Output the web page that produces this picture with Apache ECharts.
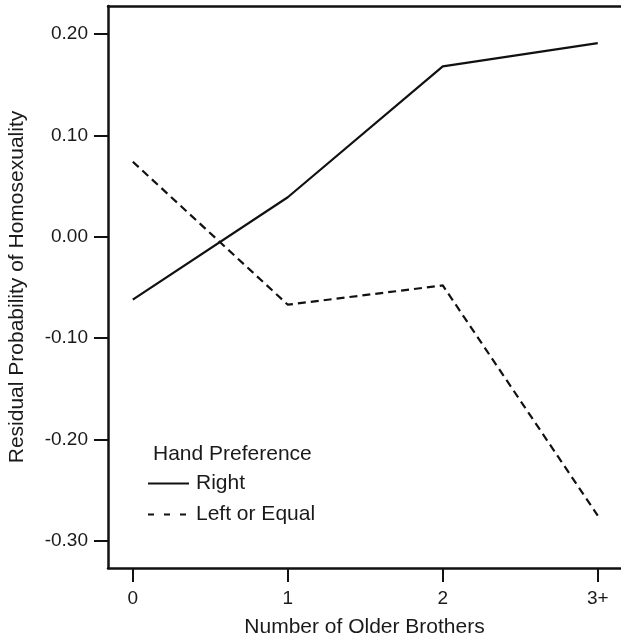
<!DOCTYPE html>
<html>
<head>
<meta charset="utf-8">
<script src="https://cdn.jsdelivr.net/npm/echarts@6/dist/echarts.min.js"></script>
<style>html,body{margin:0;padding:0;background:#fff;}#c{width:621px;height:640px;}</style>
</head>
<body>
<div id="c"></div>
<script>
const categories = ["0", "1", "2", "3+"];
const rightValues = [-0.062, 0.039, 0.168, 0.191];
const leftValues = [0.074, -0.067, -0.048, -0.275];
const yTicks = [-0.3, -0.2, -0.1, 0, 0.1, 0.2];
const xTicks = [0, 1, 2, 3];
const seriesNames = ["Right", "Left or Equal"];

const FONT = "Liberation Sans, Arial, Helvetica, sans-serif";
const TXT = "#1a1a1a";
const toPairs = vals => vals.map((v, i) => [i, v]);

const chart = echarts.init(document.getElementById('c'), null, {renderer: 'canvas'});
chart.setOption({
  animation: false,
  backgroundColor: '#fff',
  textStyle: {fontFamily: FONT},
  title: {
    text: 'Hand Preference', left: 148, top: 439,
    textStyle: {fontFamily: FONT, fontSize: 21, fontWeight: 'normal', color: TXT}
  },
  legend: {
    orient: 'vertical', left: 147, top: 473, padding: 0,
    itemWidth: 41, itemHeight: 14, itemGap: 10,
    itemStyle: {opacity: 0},
    textStyle: {fontFamily: FONT, fontSize: 21, lineHeight: 20, color: TXT, padding: [0, 0, 0, 2]},
    data: [
      {name: seriesNames[0]},
      {name: seriesNames[1], lineStyle: {type: [6, 10]}}
    ]
  },
  grid: {left: 108, top: 6, right: 0, bottom: 72, containLabel: false, outerBoundsMode: 'none'},
  xAxis: [{
    type: 'value', min: -0.16, max: 3.15,
    name: 'Number of Older Brothers', nameLocation: 'middle', nameGap: 49,
    nameTextStyle: {fontFamily: FONT, fontSize: 21, color: TXT},
    axisLine: {show: true, onZero: false, lineStyle: {color: '#111', width: 2.5}},
    axisTick: {show: true, length: 14, lineStyle: {color: '#111', width: 2}, customValues: xTicks},
    axisLabel: {fontFamily: FONT, fontSize: 19, color: TXT, margin: 21, customValues: xTicks,
      formatter: v => categories[Math.round(v)]},
    splitLine: {show: false}
  }, {
    type: 'value', position: 'top', min: -0.16, max: 3.15,
    axisLine: {show: true, onZero: false, lineStyle: {color: '#111', width: 2.5}},
    axisTick: {show: false}, axisLabel: {show: false}, splitLine: {show: false}
  }],
  yAxis: {
    type: 'value', min: -0.3267, max: 0.2276,
    name: 'Residual Probability of Homosexuality', nameLocation: 'middle', nameGap: 80,
    nameTextStyle: {fontFamily: FONT, fontSize: 21, color: TXT},
    axisLine: {show: true, onZero: false, lineStyle: {color: '#111', width: 2.5}},
    axisTick: {show: true, length: 14, lineStyle: {color: '#111', width: 2}, customValues: yTicks},
    axisLabel: {fontFamily: FONT, fontSize: 19, color: TXT, margin: 20, customValues: yTicks,
      formatter: v => v.toFixed(2)},
    splitLine: {show: false}
  },
  series: [{
    name: seriesNames[0], type: 'line', data: toPairs(rightValues),
    symbol: 'none', lineStyle: {color: '#111', width: 2.2, type: 'solid'}, itemStyle: {color: '#111'}
  }, {
    name: seriesNames[1], type: 'line', data: toPairs(leftValues),
    symbol: 'none', lineStyle: {color: '#111', width: 2.2, type: [8, 5]}, itemStyle: {color: '#111'}
  }]
});
</script>
</body>
</html>
